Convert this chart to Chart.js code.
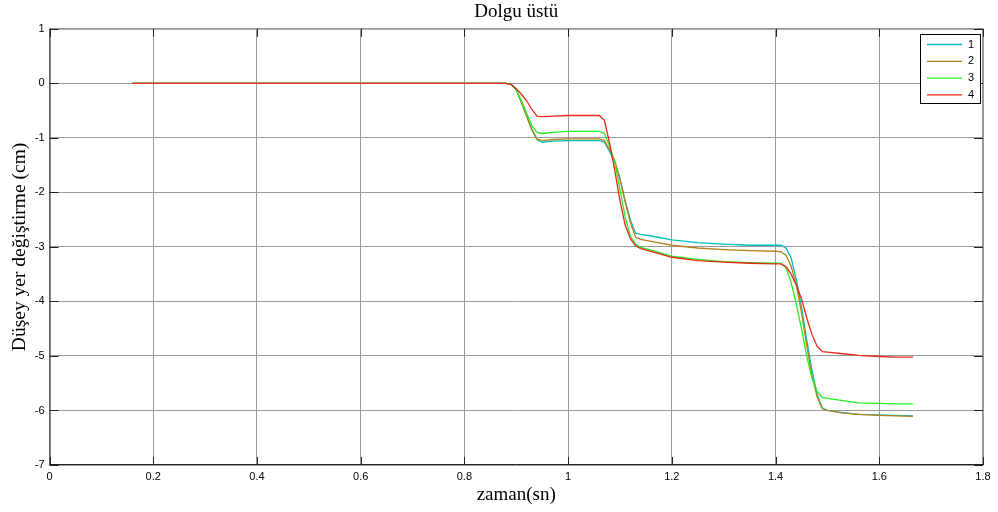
<!DOCTYPE html>
<html>
<head>
<meta charset="utf-8">
<script src="https://cdn.jsdelivr.net/npm/chart.js@4/dist/chart.umd.min.js"></script>
<style>
  html, body { margin: 0; padding: 0; background: #fff; }
  #wrap { width: 998px; height: 512px; }
</style>
</head>
<body>
<div id="wrap"><canvas id="c" width="998" height="512"></canvas></div>
<script>
// time axis (s), shared by all four series
const times = [0.16, 0.88, 0.89, 0.90, 0.91, 0.92, 0.93, 0.94, 0.95, 0.97, 1.00, 1.03, 1.06, 1.07,
  1.08, 1.09, 1.10, 1.11, 1.12, 1.13, 1.14, 1.16, 1.20, 1.25, 1.30, 1.35, 1.40, 1.41, 1.42, 1.43,
  1.44, 1.45, 1.46, 1.47, 1.48, 1.49, 1.50, 1.53, 1.56, 1.60, 1.63, 1.665];

const seriesNames = ["1", "2", "3", "4"];

const disp1 = [0, 0, -0.02, -0.12, -0.35, -0.60, -0.85, -1.03, -1.08, -1.06, -1.05, -1.05, -1.05, -1.08,
  -1.25, -1.45, -1.75, -2.15, -2.50, -2.75, -2.77, -2.80, -2.87, -2.92, -2.95, -2.97, -2.97, -2.97, -3.02, -3.20,
  -3.60, -4.10, -4.70, -5.25, -5.70, -5.95, -6.00, -6.04, -6.07, -6.08, -6.09, -6.10];
const disp2 = [0, 0, -0.02, -0.12, -0.35, -0.60, -0.85, -1.02, -1.05, -1.03, -1.02, -1.02, -1.02, -1.05,
  -1.22, -1.42, -1.75, -2.18, -2.55, -2.82, -2.86, -2.90, -2.97, -3.02, -3.05, -3.07, -3.08, -3.09, -3.15, -3.35,
  -3.70, -4.20, -4.80, -5.35, -5.75, -5.97, -6.00, -6.05, -6.07, -6.09, -6.10, -6.11];
const disp3 = [0, 0, -0.02, -0.12, -0.32, -0.55, -0.78, -0.90, -0.92, -0.90, -0.88, -0.88, -0.88, -0.92,
  -1.15, -1.45, -1.95, -2.45, -2.80, -2.95, -3.01, -3.06, -3.17, -3.23, -3.27, -3.29, -3.30, -3.30, -3.38, -3.65,
  -4.05, -4.50, -5.00, -5.40, -5.65, -5.76, -5.78, -5.82, -5.86, -5.87, -5.88, -5.88];
const disp4 = [0, 0, -0.02, -0.10, -0.20, -0.32, -0.48, -0.60, -0.61, -0.60, -0.59, -0.59, -0.59, -0.68,
  -1.10, -1.60, -2.15, -2.60, -2.85, -2.98, -3.03, -3.08, -3.19, -3.25, -3.28, -3.30, -3.31, -3.31, -3.36, -3.50,
  -3.70, -3.95, -4.30, -4.60, -4.82, -4.92, -4.93, -4.96, -4.99, -5.01, -5.02, -5.02];

const xTicks = [0, 0.2, 0.4, 0.6, 0.8, 1, 1.2, 1.4, 1.6, 1.8];
const yTicks = [1, 0, -1, -2, -3, -4, -5, -6, -7];

const colors = ["#00bfbf", "#b8801a", "#22f022", "#e8281a"];
const allDisp = [disp1, disp2, disp3, disp4];

const datasets = allDisp.map((d, i) => ({
  label: seriesNames[i],
  data: times.map((t, k) => ({ x: t, y: d[k] })),
  borderColor: colors[i],
  borderWidth: 1.3,
  pointRadius: 0,
  fill: false,
  tension: 0,
  order: 3 - i,
}));

const serif = "'Liberation Serif', 'Times New Roman', serif";
const sans = "'Liberation Sans', Arial, sans-serif";

// box, inward ticks and legend drawn like the original figure
const frame = {
  id: "frame",
  afterDraw(chart) {
    const { ctx, chartArea: a, scales } = chart;
    ctx.save();
    ctx.lineWidth = 1;
    ctx.strokeStyle = "#999";
    ctx.beginPath();
    ctx.moveTo(a.left, a.top + 0.5); ctx.lineTo(a.right, a.top + 0.5);
    ctx.moveTo(a.right - 0.5, a.top); ctx.lineTo(a.right - 0.5, a.bottom);
    ctx.stroke();
    ctx.strokeStyle = "#222";
    ctx.beginPath();
    ctx.moveTo(a.left + 0.5, a.top); ctx.lineTo(a.left + 0.5, a.bottom);
    ctx.moveTo(a.left, a.bottom - 0.5); ctx.lineTo(a.right, a.bottom - 0.5);
    xTicks.forEach(v => {
      const px = Math.round(scales.x.getPixelForValue(v)) + 0.5;
      ctx.moveTo(px, a.bottom); ctx.lineTo(px, a.bottom - 8);
      ctx.moveTo(px, a.top); ctx.lineTo(px, a.top + 8);
    });
    yTicks.forEach(v => {
      const py = Math.round(scales.y.getPixelForValue(v)) + 0.5;
      ctx.moveTo(a.left, py); ctx.lineTo(a.left + 9, py);
      ctx.moveTo(a.right, py); ctx.lineTo(a.right - 9, py);
    });
    ctx.stroke();

    // legend
    const lx = 920, ly = 34, lw = 60, lh = 69;
    ctx.fillStyle = "#fff";
    ctx.fillRect(lx, ly, lw, lh);
    ctx.strokeStyle = "#000";
    ctx.strokeRect(lx + 0.5, ly + 0.5, lw, lh);
    ctx.font = "11px " + sans;
    ctx.textBaseline = "middle";
    chart.data.datasets.forEach((ds, i) => {
      const yy = ly + 10.5 + i * 16.8;
      ctx.strokeStyle = ds.borderColor;
      ctx.lineWidth = 1.3;
      ctx.beginPath();
      ctx.moveTo(lx + 7, yy); ctx.lineTo(lx + 42, yy);
      ctx.stroke();
      ctx.fillStyle = "#000";
      ctx.fillText(ds.label, lx + 48, yy);
    });
    ctx.restore();
  }
};

new Chart(document.getElementById("c"), {
  type: "line",
  data: { datasets },
  options: {
    responsive: false,
    animation: false,
    layout: { padding: { top: 0, right: 15, left: 0, bottom: 0 } },
    plugins: {
      legend: { display: false },
      tooltip: { enabled: false },
      title: {
        display: true,
        fullSize: false,
        text: "Dolgu üstü",
        color: "#000",
        font: { family: serif, size: 19, weight: "normal" },
        padding: { top: 1, bottom: 5 },
      },
    },
    scales: {
      x: {
        type: "linear",
        min: 0, max: 1.8,
        afterBuildTicks: s => { s.ticks = xTicks.map(v => ({ value: v })); },
        afterFit: s => { s.height = 47; },
        grid: { color: "#9a9a9a", lineWidth: 1, drawTicks: false },
        border: { display: false },
        ticks: {
          color: "#000", padding: 5,
          font: { family: sans, size: 11 },
          callback: v => String(Math.round(v * 10) / 10),
        },
        title: {
          display: true, text: "zaman(sn)", color: "#000",
          font: { family: serif, size: 19 },
          padding: { top: 0, bottom: 6 },
        },
      },
      y: {
        min: -7, max: 1,
        afterBuildTicks: s => { s.ticks = yTicks.map(v => ({ value: v })); },
        afterFit: s => { s.width = 49.5; },
        grid: { color: "#9a9a9a", lineWidth: 1, drawTicks: false },
        border: { display: false },
        ticks: {
          color: "#000", padding: 5,
          font: { family: sans, size: 11 },
        },
        title: {
          display: true, text: "Düşey yer değiştirme (cm)", color: "#000",
          font: { family: serif, size: 19.5 },
          padding: { top: 8, bottom: 0 },
        },
      },
    },
  },
  plugins: [frame],
});
</script>
</body>
</html>
